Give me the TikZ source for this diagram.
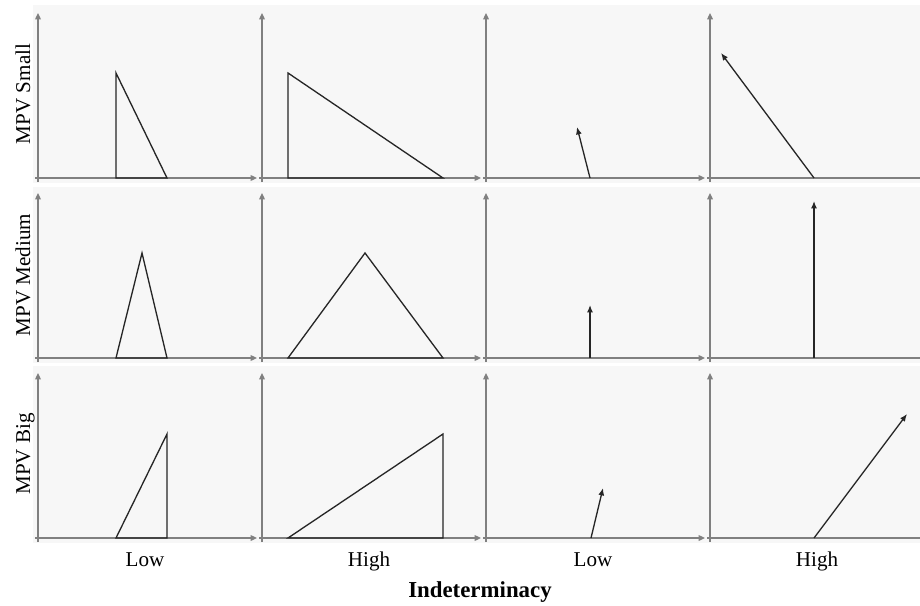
\documentclass[tikz,border=0pt]{standalone}
\usepackage{fontspec}
\setmainfont{Liberation Serif}
\usetikzlibrary{arrows.meta}

\begin{document}
\begin{tikzpicture}[
  band/.style={fill=black!3,draw=none},
  axisline/.style={black!50,line width=0.75pt,-{Triangle[length=3.6pt,width=3.2pt]}},
  outline/.style={black!85,line width=0.75pt,line join=miter},
  vec/.style={black!85,line width=0.75pt,-{Latex[length=4.2pt,width=3.4pt]}},
  rowlabel/.style={font=\fontsize{12}{14}\selectfont,rotate=90,anchor=base},
  collabel/.style={font=\fontsize{12}{14}\selectfont,anchor=base}]
\useasboundingbox (0.000,0.000) rectangle (18.400,-12.100);
% grey bands, one per row
\fill[band] (0.660,-0.100) rectangle (18.400,-3.660);
\fill[band] (0.660,-3.740) rectangle (18.400,-7.260);
\fill[band] (0.660,-7.320) rectangle (18.400,-10.860);
% axes, row 1
\draw[axisline] (0.700,-3.560) -- (5.140,-3.560);
\draw[axisline] (0.760,-3.640) -- (0.760,-0.260);
\draw[axisline] (5.180,-3.560) -- (9.620,-3.560);
\draw[axisline] (5.240,-3.640) -- (5.240,-0.260);
\draw[axisline] (9.660,-3.560) -- (14.100,-3.560);
\draw[axisline] (9.720,-3.640) -- (9.720,-0.260);
\draw[axisline,-] (14.140,-3.560) -- (18.400,-3.560);
\draw[axisline] (14.200,-3.640) -- (14.200,-0.260);
% axes, row 2
\draw[axisline] (0.700,-7.160) -- (5.140,-7.160);
\draw[axisline] (0.760,-7.240) -- (0.760,-3.860);
\draw[axisline] (5.180,-7.160) -- (9.620,-7.160);
\draw[axisline] (5.240,-7.240) -- (5.240,-3.860);
\draw[axisline] (9.660,-7.160) -- (14.100,-7.160);
\draw[axisline] (9.720,-7.240) -- (9.720,-3.860);
\draw[axisline,-] (14.140,-7.160) -- (18.400,-7.160);
\draw[axisline] (14.200,-7.240) -- (14.200,-3.860);
% axes, row 3
\draw[axisline] (0.700,-10.760) -- (5.140,-10.760);
\draw[axisline] (0.760,-10.840) -- (0.760,-7.460);
\draw[axisline] (5.180,-10.760) -- (9.620,-10.760);
\draw[axisline] (5.240,-10.840) -- (5.240,-7.460);
\draw[axisline] (9.660,-10.760) -- (14.100,-10.760);
\draw[axisline] (9.720,-10.840) -- (9.720,-7.460);
\draw[axisline,-] (14.140,-10.760) -- (18.400,-10.760);
\draw[axisline] (14.200,-10.840) -- (14.200,-7.460);
% triangles
\draw[outline] (2.320,-1.460) -- (2.320,-3.560) -- (3.340,-3.560) -- cycle;
\draw[outline] (2.320,-7.160) -- (2.840,-5.060) -- (3.340,-7.160) -- cycle;
\draw[outline] (2.320,-10.760) -- (3.340,-8.680) -- (3.340,-10.760) -- cycle;
\draw[outline] (5.760,-1.460) -- (5.760,-3.560) -- (8.860,-3.560) -- cycle;
\draw[outline] (5.760,-7.160) -- (7.300,-5.060) -- (8.860,-7.160) -- cycle;
\draw[outline] (5.760,-10.760) -- (8.860,-8.680) -- (8.860,-10.760) -- cycle;
% arrows
\draw[vec] (11.800,-3.560) -- (11.540,-2.540);
\draw[vec] (11.800,-7.160) -- (11.800,-6.100);
\draw[vec] (11.820,-10.760) -- (12.060,-9.760);
\draw[vec] (16.280,-3.560) -- (14.420,-1.060);
\draw[vec] (16.280,-7.160) -- (16.280,-4.020);
\draw[vec] (16.280,-10.760) -- (18.140,-8.280);
% labels
\node[rowlabel] (small) at (0.600,-1.880) {MPV Small};
\node[rowlabel] (medium) at (0.600,-5.500) {MPV Medium};
\node[rowlabel] (big) at (0.600,-9.080) {MPV Big};
\node[collabel] (low1) at (2.900,-11.320) {Low};
\node[collabel] (high1) at (7.380,-11.320) {High};
\node[collabel] (low2) at (11.860,-11.320) {Low};
\node[collabel] (high2) at (16.340,-11.320) {High};
\node[font=\fontsize{13}{15}\selectfont\bfseries,anchor=base] (indet) at (9.600,-11.940) {Indeterminacy};
\end{tikzpicture}
\end{document}
